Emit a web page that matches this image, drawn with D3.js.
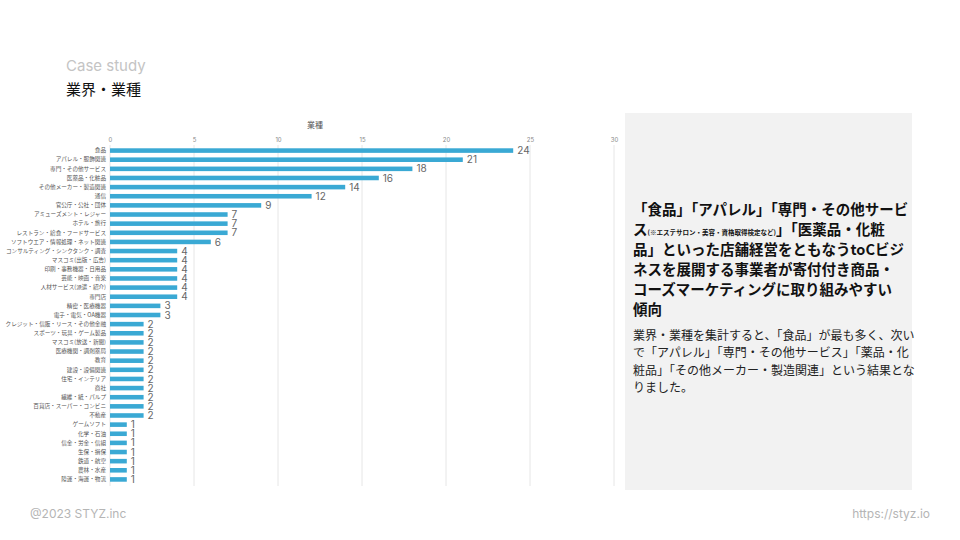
<!DOCTYPE html>
<html lang="ja">
<head>
<meta charset="UTF-8">
<title>業界・業種</title>
<script src="https://d3js.org/d3.v7.min.js"></script>
<style>
  body { margin: 0; background: #fff; }
  svg text { font-family: "Noto Sans CJK JP", "Noto Sans", sans-serif; }
</style>
</head>
<body>
<div id="chart"></div>
<script>
const categories = [
  "食品", "アパレル・服飾関連", "専門・その他サービス", "医薬品・化粧品", "その他メーカー・製造関連",
  "通信", "官公庁・公社・団体", "アミューズメント・レジャー", "ホテル・旅行", "レストラン・給食・フードサービス",
  "ソフトウエア・情報処理・ネット関連", "コンサルティング・シンクタンク・調査", "マスコミ(出版・広告)", "印刷・事務機器・日用品",
  "芸能・映画・音楽", "人材サービス(派遣・紹介)", "専門店", "精密・医療機器", "電子・電気・OA機器",
  "クレジット・信販・リース・その他金融", "スポーツ・玩具・ゲーム製品", "マスコミ(放送・新聞)", "医療機関・調剤薬局",
  "教育", "建設・設備関連", "住宅・インテリア", "商社", "繊維・紙・パルプ", "百貨店・スーパー・コンビニ", "不動産",
  "ゲームソフト", "化学・石油", "信金・労金・信組", "生保・損保", "鉄道・航空", "農林・水産", "陸運・海運・物流"
];
const counts = [24, 21, 18, 16, 14, 12, 9, 7, 7, 7, 6, 4, 4, 4, 4, 4, 4, 3, 3,
  2, 2, 2, 2, 2, 2, 2, 2, 2, 2, 2, 1, 1, 1, 1, 1, 1, 1];
const xTicks = [0, 5, 10, 15, 20, 25, 30];

const headline = [
  [["「食品」「アパレル」「専門・その他サービ", 14.5]],
  [["ス", 14.5], ["(※エステサロン・美容・資格取得検定など)", 6.5], ["」「医薬品・化粧", 14.5]],
  [["品」といった店舗経営をともなうtoCビジ", 14.5]],
  [["ネスを展開する事業者が寄付付き商品・", 14.5]],
  [["コーズマーケティングに取り組みやすい", 14.5]],
  [["傾向", 14.5]]
];
const bodyLines = [
  "業界・業種を集計すると、「食品」が最も多く、次い",
  "で「アパレル」「専門・その他サービス」「薬品・化",
  "粧品」「その他メーカー・製造関連」という結果とな",
  "りました。"
];

const W = 960, H = 540;
const svg = d3.select("#chart").append("svg").attr("width", W).attr("height", H);

// header / footer
svg.append("text").attr("x", 66).attr("y", 71).attr("fill", "#c4c4c4")
  .style("font-family", "Inter, 'Noto Sans', sans-serif").style("font-size", "15px").text("Case study");
svg.append("text").attr("x", 66).attr("y", 95).attr("fill", "#111")
  .style("font-size", "15px").text("業界・業種");
svg.append("text").attr("x", 30).attr("y", 518).attr("fill", "#b5b5b5")
  .style("font-family", "Inter, 'Noto Sans', sans-serif").style("font-size", "12px").text("@2023 STYZ.inc");
svg.append("text").attr("x", 930).attr("y", 518).attr("text-anchor", "end").attr("fill", "#b5b5b5")
  .style("font-family", "Inter, 'Noto Sans', sans-serif").style("font-size", "12px").text("https://styz.io");

// chart
const x = d3.scaleLinear().domain([0, 30]).range([110, 614]);
const y = d3.scaleBand().domain(categories).range([146, 484]).paddingInner(0.5).paddingOuter(0.25);

svg.append("text").attr("x", 315).attr("y", 128).attr("text-anchor", "middle")
  .attr("fill", "#555").style("font-size", "8px").text("業種");

const g = svg.append("g");
g.append("g").selectAll("line").data(xTicks).join("line")
  .attr("x1", d => x(d)).attr("x2", d => x(d))
  .attr("y1", 145).attr("y2", 486)
  .attr("stroke", "#e6e6e6").attr("stroke-width", 1);

const xAxis = g.append("g").attr("transform", "translate(0,142)")
  .call(d3.axisTop(x).tickValues(xTicks).tickSize(0).tickPadding(0));
xAxis.select(".domain").remove();
xAxis.selectAll("text").attr("fill", "#888").style("font-size", "6px")
  .style("font-family", "Inter, 'Noto Sans', sans-serif");

const yAxis = g.append("g").attr("transform", "translate(106,0)")
  .call(d3.axisLeft(y).tickSize(0).tickPadding(0));
yAxis.select(".domain").remove();
yAxis.selectAll("text").attr("fill", "#555").style("font-size", "5.6px")
  .style("font-family", "'Noto Sans CJK JP', sans-serif");

g.selectAll(".bar").data(categories).join("rect").attr("class", "bar")
  .attr("x", x(0)).attr("y", d => y(d))
  .attr("width", (d, i) => x(counts[i]) - x(0))
  .attr("height", y.bandwidth())
  .attr("fill", "#3aa9d4");

g.selectAll(".val").data(categories).join("text").attr("class", "val")
  .attr("x", (d, i) => x(counts[i]) + 4)
  .attr("y", d => y(d) + y.bandwidth() / 2)
  .attr("dy", "0.36em")
  .attr("fill", "#666")
  .style("font-family", "Inter, 'Noto Sans', sans-serif").style("font-size", "10px")
  .text((d, i) => counts[i]);

// right panel
svg.append("rect").attr("x", 625).attr("y", 113).attr("width", 287).attr("height", 377).attr("fill", "#f2f2f2");

const hl = svg.append("text").attr("fill", "#111").style("font-weight", "bold");
headline.forEach((line, i) => {
  line.forEach(([t, s], j) => {
    const ts = hl.append("tspan").style("font-size", s + "px").text(t);
    if (j === 0) ts.attr("x", 633).attr("y", 215 + i * 20);
  });
});

const bt = svg.append("text").attr("fill", "#222").style("font-size", "12px");
bodyLines.forEach((t, i) => {
  bt.append("tspan").attr("x", 633).attr("y", 340 + i * 17.3).text(t);
});
</script>
</body>
</html>
